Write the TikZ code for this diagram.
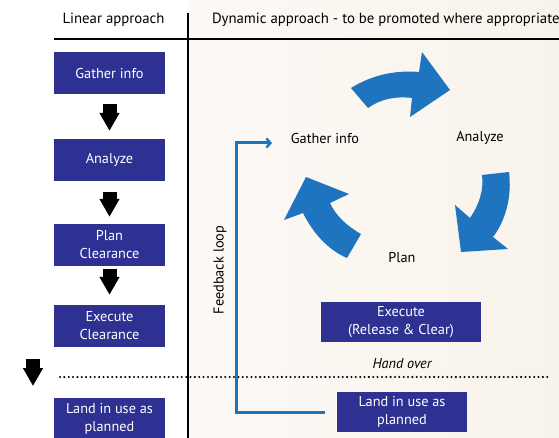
\documentclass[tikz,border=0pt]{standalone}
\usepackage{fontspec}
\setmainfont{PT Sans}
\usetikzlibrary{arrows.meta}
\definecolor{boxblue}{RGB}{46,49,146}
\definecolor{cycblue}{RGB}{30,116,190}
\definecolor{bgl}{RGB}{253,249,246}
\definecolor{bgr}{RGB}{248,243,234}
\tikzset{
  bluebox/.style={fill=boxblue, text=white, minimum height=42pt, inner sep=0pt, align=center, font=\fontsize{14.3}{18}\selectfont},
  lbl/.style={inner sep=0pt, font=\fontsize{14.3}{18}\selectfont},
  blockarrow/.style={line width=14pt, -{Triangle[length=18pt,width=19pt]}},
  cyc/.style={fill=cycblue},
  fbline/.style={draw=cycblue, line width=3pt, -{Straight Barb[length=4pt,width=9pt,line width=2.4pt]}},
  rule/.style={line width=1.8pt}
}
\begin{document}
\begin{tikzpicture}[x=1pt,y=-1pt]
\useasboundingbox (0,0) rectangle (559,438);
\clip (0,0) rectangle (559,438);
\shade[left color=bgl, right color=bgr] (188,0) rectangle (559,438);
% headers
\node[lbl, anchor=center, font=\fontsize{14.8}{18}\selectfont] (hl) at (113.5,20) {Linear approach};
\node[lbl, anchor=west, font=\fontsize{14.8}{18}\selectfont] (hd) at (212,20) {Dynamic approach - to be promoted where appropriate};
\draw[rule] (54,39) -- (559,39);
\draw[rule] (188,13) -- (188,438);
% left column
\node[bluebox, minimum width=111pt] (G) at (109.5,73) {Gather info};
\node[bluebox, minimum width=111pt] (A) at (109.5,160) {Analyze};
\node[bluebox, minimum width=111pt] (P) at (109.5,245) {Plan\\Clearance};
\node[bluebox, minimum width=111pt] (E) at (109.5,326) {Execute\\Clearance};
\node[bluebox, minimum width=111pt] (L) at (109.5,418.5) {Land in use as\\planned};
\draw[blockarrow] ([yshift=-10pt]G.south) -- ([yshift=8pt]A.north);
\draw[blockarrow] ([yshift=-11pt]A.south) -- ([yshift=7pt]P.north);
\draw[blockarrow] ([yshift=-3pt]P.south) -- ([yshift=10pt]E.north);
\coordinate (h1) at (33,359);
\coordinate (h2) at (33,386);
\draw[blockarrow] (h1) -- (h2);
% dotted line
\coordinate (d1) at (60,377);
\coordinate (d2) at (549,377);
\draw[line width=2.3pt, line cap=round, dash pattern=on 0pt off 4.35pt] (d1) -- (d2);
% dynamic
\node[lbl] (GD) at (325,138) {Gather info};
\node[lbl] (AD) at (480,138) {Analyze};
\node[lbl] (PD) at (402,258) {Plan};
\node[bluebox, minimum width=160pt, minimum height=40pt] (EX) at (401,322) {Execute\\(Release \& Clear)};
\node[lbl, font=\fontsize{14.3}{18}\selectfont\itshape] (HO) at (402,364) {Hand over};
\node[bluebox, minimum width=130pt, minimum height=40pt] (LR) at (402,412) {Land in use as\\planned};
% cycle arrows
\fill[cyc] (351,88) .. controls (372,75) and (395,70) .. (419,72) -- (422,52) -- (450,90) -- (410,117) -- (412,98) .. controls (395,96) and (381,99) .. (368,108) -- cycle;
\fill[cyc] (509,172) .. controls (512,196) and (506,220) .. (493,237) -- (508,249) -- (461,252) -- (455,205) -- (470,218) .. controls (479,205) and (484,190) .. (482,175) -- cycle;
\fill[cyc] (361,234) .. controls (347,226) and (336,216) .. (330,203) -- (349,194) -- (306,177) -- (284,220) -- (303,213) .. controls (313,233) and (328,250) .. (347,258) -- cycle;
% feedback loop
\coordinate (fbc) at (236,143);
\coordinate (fbt) at (272,143);
\draw[fbline] ([xshift=-12pt]LR.west) -| (fbc) -- (fbt);
\node[lbl, rotate=90] (FB) at (220,270) {Feedback loop};
\end{tikzpicture}
\end{document}
